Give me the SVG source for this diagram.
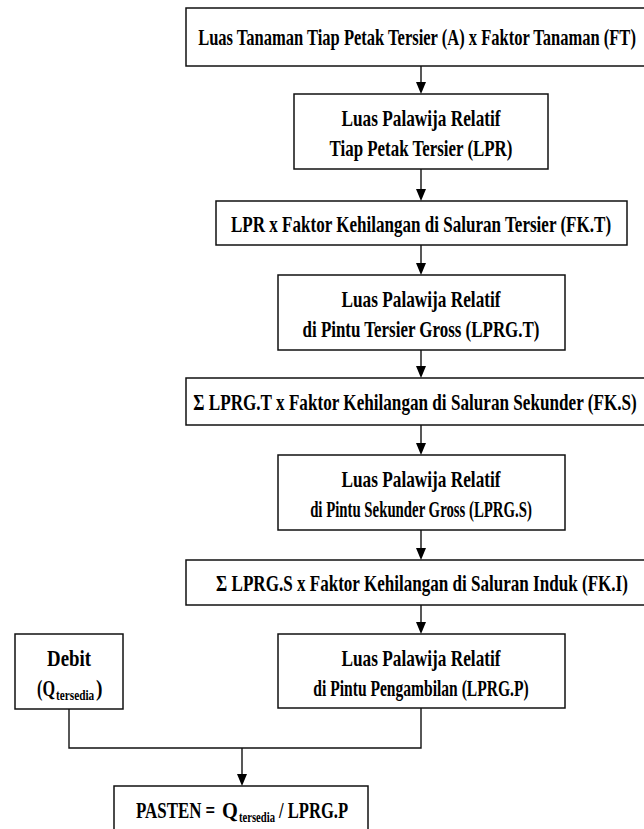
<svg xmlns="http://www.w3.org/2000/svg" width="644" height="829" viewBox="0 0 644 829">
<style>
  .box { fill: #ffffff; stroke: #111111; stroke-width: 1.5; }
  .conn { fill: none; stroke: #111111; stroke-width: 1.4; }
  .ah { fill: #000000; }
  text { font-family: "Liberation Serif", "Times New Roman", serif; font-weight: bold; font-size: 24px; fill: #000000; }
  .m { text-anchor: middle; }
  .sub { font-size: 15px; }
</style>
<rect width="644" height="829" fill="#ffffff"/>

<g id="connectors">
  <line class="conn" x1="421" y1="66" x2="421" y2="84" />
  <path class="ah" d="M416,82 L426,82 L421,94 Z"/>
  <line class="conn" x1="421" y1="169" x2="421" y2="191" />
  <path class="ah" d="M416,189 L426,189 L421,201 Z"/>
  <line class="conn" x1="421" y1="245" x2="421" y2="265" />
  <path class="ah" d="M416,263 L426,263 L421,275 Z"/>
  <line class="conn" x1="421" y1="350" x2="421" y2="368" />
  <path class="ah" d="M416,366 L426,366 L421,378 Z"/>
  <line class="conn" x1="421" y1="425" x2="421" y2="445" />
  <path class="ah" d="M416,443 L426,443 L421,455 Z"/>
  <line class="conn" x1="421" y1="530" x2="421" y2="550" />
  <path class="ah" d="M416,548 L426,548 L421,560 Z"/>
  <line class="conn" x1="421" y1="605" x2="421" y2="624" />
  <path class="ah" d="M416,622 L426,622 L421,634 Z"/>
  <polyline class="conn" points="69,709 69,748 421,748 421,708" />
  <line class="conn" x1="242" y1="748" x2="242" y2="776" />
  <path class="ah" d="M237,774 L247,774 L242,786 Z"/>
</g>

<g id="n1">
  <rect class="box" x="186" y="8" width="472" height="58"/>
  <text class="m" transform="translate(417,45) scale(0.72,1)" textLength="608" lengthAdjust="spacingAndGlyphs">Luas Tanaman Tiap Petak Tersier (A) x Faktor Tanaman (FT)</text>
</g>
<g id="n2">
  <rect class="box" x="294" y="94" width="254" height="75"/>
  <text class="m" transform="translate(421,126) scale(0.72,1)" textLength="221" lengthAdjust="spacingAndGlyphs">Luas Palawija Relatif</text>
  <text class="m" transform="translate(421,156) scale(0.72,1)" textLength="254" lengthAdjust="spacingAndGlyphs">Tiap Petak Tersier (LPR)</text>
</g>
<g id="n3">
  <rect class="box" x="216" y="201" width="411" height="44"/>
  <text class="m" transform="translate(421,232) scale(0.72,1)" textLength="528" lengthAdjust="spacingAndGlyphs">LPR x Faktor Kehilangan di Saluran Tersier (FK.T)</text>
</g>
<g id="n4">
  <rect class="box" x="278" y="275" width="287" height="75"/>
  <text class="m" transform="translate(421,307) scale(0.72,1)" textLength="221" lengthAdjust="spacingAndGlyphs">Luas Palawija Relatif</text>
  <text class="m" transform="translate(421,337) scale(0.72,1)" textLength="329" lengthAdjust="spacingAndGlyphs">di Pintu Tersier Gross (LPRG.T)</text>
</g>
<g id="n5">
  <rect class="box" x="186" y="378" width="472" height="47"/>
  <text class="m" transform="translate(415,410) scale(0.72,1)" textLength="616" lengthAdjust="spacingAndGlyphs">Σ LPRG.T x Faktor Kehilangan di Saluran Sekunder (FK.S)</text>
</g>
<g id="n6">
  <rect class="box" x="278" y="455" width="287" height="75"/>
  <text class="m" transform="translate(421,487) scale(0.72,1)" textLength="221" lengthAdjust="spacingAndGlyphs">Luas Palawija Relatif</text>
  <text class="m" transform="translate(421,517) scale(0.72,1)" textLength="308" lengthAdjust="spacingAndGlyphs">di Pintu Sekunder Gross (LPRG.S)</text>
</g>
<g id="n7">
  <rect class="box" x="186" y="560" width="472" height="45"/>
  <text class="m" transform="translate(422,591) scale(0.72,1)" textLength="572" lengthAdjust="spacingAndGlyphs">Σ LPRG.S x Faktor Kehilangan di Saluran Induk (FK.I)</text>
</g>
<g id="n8">
  <rect class="box" x="278" y="634" width="287" height="74"/>
  <text class="m" transform="translate(421,666) scale(0.72,1)" textLength="221" lengthAdjust="spacingAndGlyphs">Luas Palawija Relatif</text>
  <text class="m" transform="translate(421,696) scale(0.72,1)" textLength="299" lengthAdjust="spacingAndGlyphs">di Pintu Pengambilan (LPRG.P)</text>
</g>
<g id="debit">
  <rect class="box" x="15" y="634" width="108" height="75"/>
  <text class="m" transform="translate(69,666) scale(0.72,1)" textLength="61" lengthAdjust="spacingAndGlyphs">Debit</text>
  <text transform="translate(37,696) scale(0.72,1)" textLength="25" lengthAdjust="spacingAndGlyphs">(Q</text>
  <text class="sub" transform="translate(56,700) scale(0.72,1)" textLength="53" lengthAdjust="spacingAndGlyphs">tersedia</text>
  <text transform="translate(96,696) scale(0.72,1)" textLength="9" lengthAdjust="spacingAndGlyphs">)</text>
</g>
<g id="n9">
  <rect class="box" x="114" y="786" width="254" height="60"/>
  <text transform="translate(136,818) scale(0.72,1)" textLength="110" lengthAdjust="spacingAndGlyphs">PASTEN =</text>
  <text transform="translate(222,818) scale(0.72,1)" textLength="22" lengthAdjust="spacingAndGlyphs">Q</text>
  <text class="sub" transform="translate(239,822) scale(0.72,1)" textLength="50" lengthAdjust="spacingAndGlyphs">tersedia</text>
  <text transform="translate(279,818) scale(0.72,1)" textLength="96" lengthAdjust="spacingAndGlyphs">/ LPRG.P</text>
</g>
</svg>
